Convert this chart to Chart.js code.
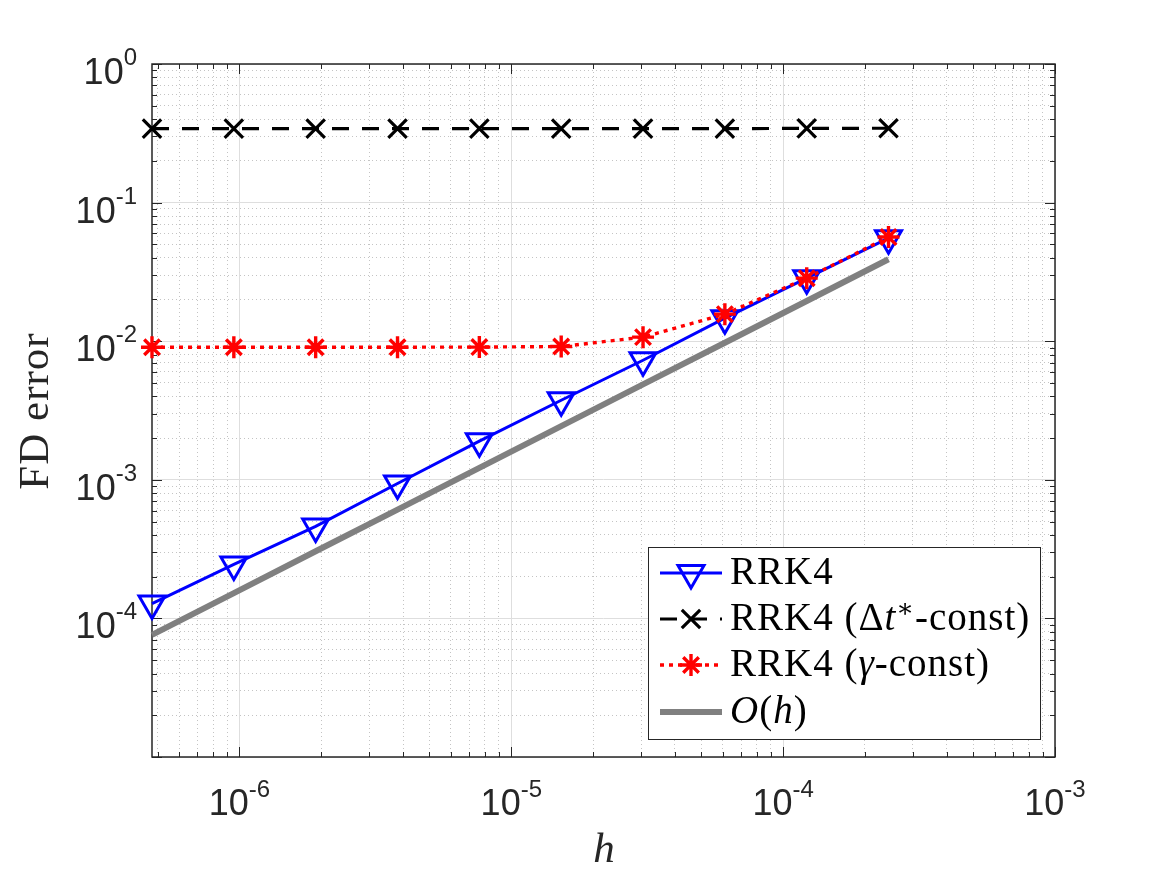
<!DOCTYPE html>
<html>
<head>
<meta charset="utf-8">
<script src="https://cdn.jsdelivr.net/npm/chart.js@4/dist/chart.umd.min.js"></script>
<style>
  html, body { margin: 0; padding: 0; background: #fff; }
  #wrap { width: 1167px; height: 875px; position: relative; }
</style>
</head>
<body>
<div id="wrap"><canvas id="grafico"></canvas></div>
<script>
// step sizes h (2^-21 ... 2^-12)
const hValues = [4.768e-7, 9.537e-7, 1.907e-6, 3.815e-6, 7.629e-6, 1.526e-5, 3.052e-5, 6.104e-5, 1.221e-4, 2.441e-4];

// FD error per method
const rrk4 = [1.28e-4, 2.45e-4, 4.61e-4, 9.4e-4, 1.90e-3, 3.75e-3, 7.29e-3, 1.466e-2, 2.85e-2, 5.54e-2];
const rrk4DtConst = [0.342, 0.342, 0.342, 0.342, 0.342, 0.342, 0.342, 0.342, 0.343, 0.344];
const rrk4GammaConst = [9.05e-3, 9.05e-3, 9.05e-3, 9.05e-3, 9.07e-3, 9.15e-3, 1.07e-2, 1.567e-2, 2.85e-2, 5.64e-2];
const orderH = [7.6e-5, 1.52e-4, 3.05e-4, 6.1e-4, 1.22e-3, 2.44e-3, 4.88e-3, 9.75e-3, 1.95e-2, 3.9e-2];

// decades labelled on each axis
const xDecades = [-6, -5, -4, -3];
const yDecades = [-4, -3, -2, -1, 0];
const xMin = hValues[0], xMax = 1e-3;
const yMin = 1e-5, yMax = 1;

const pares = (ys) => hValues.map((h, i) => ({ x: h, y: ys[i] }));

// ticks 1..9 x 10^e inside the range
function logTicks(min, max) {
  const out = [];
  for (let e = Math.floor(Math.log10(min)); e <= Math.ceil(Math.log10(max)); e++) {
    for (let m = 1; m <= 9; m++) {
      const v = m * Math.pow(10, e);
      if (v >= min * 0.999 && v <= max * 1.001) out.push({ value: v, major: m === 1 });
    }
  }
  return out;
}

const gridOpts = {
  drawTicks: false,
  color: (c) => (c.tick && c.tick.major) ? '#dedede' : '#c4c4c4',
  lineWidth: 1
};
const borderOpts = {
  display: false,
  dash: (c) => (c.tick && !c.tick.major) ? [1, 3] : []
};

const series = [
  { label: 'RRK4', data: rrk4, color: '#0000ff', dash: [], width: 3, style: 'triangle', radius: 15, rot: 180 },
  { label: 'dt', data: rrk4DtConst, color: '#000000', dash: [17, 13], width: 3.2, style: 'crossRot', radius: 13, rot: 0 },
  { label: 'gamma', data: rrk4GammaConst, color: '#ff0000', dash: [4, 5], width: 3.4, style: 'star', radius: 11, rot: 0 },
  { label: 'O(h)', data: orderH, color: '#808080', dash: [], width: 6, style: false, radius: 0, rot: 0 }
];

const serif = '"Liberation Serif", "DejaVu Serif", serif';
const sans = '"Liberation Sans", Arial, sans-serif';

// desenha eixos, ticks internos, rótulos e legenda
const eixosPlugin = {
  id: 'eixos',
  beforeDatasetsDraw(chart) {
    const { ctx, chartArea: a } = chart;
    const xs = chart.scales.x, ys = chart.scales.y;
    ctx.save();
    ctx.strokeStyle = '#262626';
    ctx.lineWidth = 1;
    ctx.beginPath();
    xs.ticks.forEach(t => {
      const px = Math.round(xs.getPixelForValue(t.value)) + 0.5;
      const len = t.major ? 10 : 5;
      ctx.moveTo(px, a.bottom); ctx.lineTo(px, a.bottom - len);
      ctx.moveTo(px, a.top); ctx.lineTo(px, a.top + len);
    });
    ys.ticks.forEach(t => {
      const py = Math.round(ys.getPixelForValue(t.value)) + 0.5;
      const len = t.major ? 10 : 5;
      ctx.moveTo(a.left, py); ctx.lineTo(a.left + len, py);
      ctx.moveTo(a.right, py); ctx.lineTo(a.right - len, py);
    });
    ctx.stroke();
    ctx.lineWidth = 1.5;
    ctx.strokeRect(a.left, a.top, a.right - a.left, a.bottom - a.top);
    ctx.restore();
  },
  afterDraw(chart) {
    const { ctx, chartArea: a } = chart;
    const xs = chart.scales.x, ys = chart.scales.y;
    const base = '36px ' + sans;
    const sup = '24px ' + sans;
    ctx.save();
    ctx.fillStyle = '#262626';
    ctx.textBaseline = 'alphabetic';
    ctx.textAlign = 'left';

    xDecades.forEach(e => {
      const px = xs.getPixelForValue(Math.pow(10, e));
      const ex = String(e);
      ctx.font = base; const w1 = ctx.measureText('10').width;
      ctx.font = sup; const w2 = ctx.measureText(ex).width;
      const x0 = px - (w1 + w2) / 2;
      ctx.font = base; ctx.fillText('10', x0, a.bottom + 58);
      ctx.font = sup; ctx.fillText(ex, x0 + w1, a.bottom + 40);
    });
    yDecades.forEach(e => {
      const py = ys.getPixelForValue(Math.pow(10, e));
      const ex = String(e);
      ctx.font = sup; const w2 = ctx.measureText(ex).width;
      ctx.font = base; const w1 = ctx.measureText('10').width;
      const x1 = a.left - 15;
      ctx.font = base; ctx.fillText('10', x1 - w2 - w1, py + 20);
      ctx.font = sup; ctx.fillText(ex, x1 - w2, py + 1);
    });

    // títulos dos eixos
    ctx.fillStyle = '#262626';
    ctx.font = 'italic 43px ' + serif;
    ctx.textAlign = 'center';
    ctx.fillText('h', 604, 862);
    ctx.save();
    ctx.translate(48, 411);
    ctx.rotate(-Math.PI / 2);
    ctx.font = '43px ' + serif;
    ctx.letterSpacing = '1px';
    ctx.fillText('FD error', 0, 0);
    ctx.restore();

    // legenda
    const bx = 648, by = 547, bw = 392, bh = 192;
    ctx.fillStyle = '#ffffff';
    ctx.fillRect(bx, by, bw, bh);
    ctx.strokeStyle = '#262626';
    ctx.lineWidth = 1;
    ctx.strokeRect(bx + 0.5, by + 0.5, bw, bh);

    const textos = [
      [{ t: 'RRK4' }],
      [{ t: 'RRK4 (' }, { t: 'Δ' }, { t: 't', i: true }, { t: '∗', s: true }, { t: '-const)' }],
      [{ t: 'RRK4 (' }, { t: 'γ', i: true }, { t: '-const)' }],
      [{ t: 'O', i: true }, { t: '(' }, { t: 'h', i: true }, { t: ')' }]
    ];
    const rowY = [573, 619, 665, 712];
    series.forEach((s, k) => {
      const y = rowY[k];
      ctx.save();
      ctx.strokeStyle = s.color;
      ctx.lineWidth = s.width;
      ctx.setLineDash(s.dash);
      ctx.beginPath();
      ctx.moveTo(660, y); ctx.lineTo(722, y);
      ctx.stroke();
      ctx.setLineDash([]);
      if (s.style) {
        ctx.fillStyle = 'rgba(0,0,0,0)';
        Chart.helpers.drawPoint(ctx, { pointStyle: s.style, radius: s.radius, rotation: s.rot, borderWidth: s.width }, 691, y);
      }
      ctx.restore();

      let tx = 730;
      ctx.fillStyle = '#000000';
      ctx.textAlign = 'left';
      ctx.letterSpacing = '1px';
      textos[k].forEach(r => {
        const f = r.s ? '26px ' : '39px ';
        ctx.font = (r.i ? 'italic ' : '') + f + serif;
        ctx.fillText(r.t, tx, r.s ? y - 2 : y + 11);
        tx += ctx.measureText(r.t).width;
      });
      ctx.letterSpacing = '0px';
    });
    ctx.restore();
  }
};

const ctx = document.getElementById('grafico').getContext('2d');
const grafico = new Chart(ctx, {
  type: 'line',
  data: {
    datasets: series.slice().reverse().map(s => ({
      label: s.label,
      data: pares(s.data),
      borderColor: s.color,
      borderWidth: s.width,
      borderDash: s.dash,
      pointStyle: s.style,
      pointRadius: s.radius,
      pointRotation: s.rot,
      pointBorderColor: s.color,
      pointBackgroundColor: 'rgba(0,0,0,0)',
      pointBorderWidth: s.width,
      tension: 0,
      clip: false
    }))
  },
  options: {
    responsive: true,
    maintainAspectRatio: false,
    animation: false,
    events: [],
    layout: { padding: { left: 152, right: 112, top: 64, bottom: 118 } },
    plugins: { legend: { display: false }, tooltip: { enabled: false } },
    scales: {
      x: {
        type: 'logarithmic', min: xMin, max: xMax,
        afterBuildTicks: (sc) => { sc.ticks = logTicks(xMin, xMax); },
        ticks: { display: false, autoSkip: false },
        grid: gridOpts, border: borderOpts
      },
      y: {
        type: 'logarithmic', min: yMin, max: yMax,
        afterBuildTicks: (sc) => { sc.ticks = logTicks(yMin, yMax); },
        ticks: { display: false, autoSkip: false },
        grid: gridOpts, border: borderOpts
      }
    }
  },
  plugins: [eixosPlugin]
});
</script>
</body>
</html>
